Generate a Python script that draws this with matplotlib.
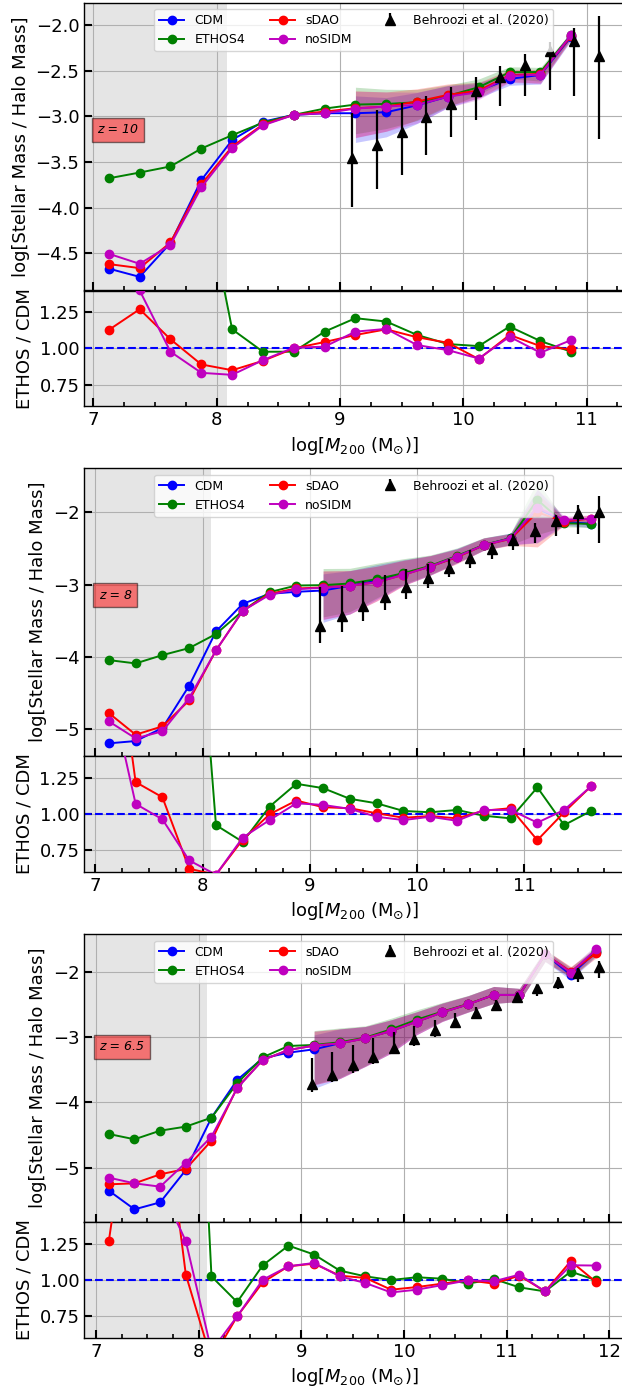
import numpy as np
import matplotlib
matplotlib.use('Agg')
import matplotlib.pyplot as plt
from matplotlib.ticker import MultipleLocator

# ---------------- data: z = 10 ----------------
mass_z10 = [7.125, 7.375, 7.625, 7.875, 8.125, 8.375, 8.625, 8.875, 9.125, 9.375,
            9.625, 9.875, 10.125, 10.375, 10.625, 10.875]
cdm_z10 = [-4.67, -4.76, -4.39, -3.70, -3.26, -3.06, -2.985, -2.967, -2.967, -2.956,
           -2.88, -2.785, -2.719, -2.591, -2.547, -2.128]
ethos_z10 = [-3.68, -3.617, -3.55, -3.354, -3.208, -3.07, -2.985, -2.916, -2.872, -2.865,
             -2.847, -2.777, -2.682, -2.518, -2.515, -2.106]
sdao_z10 = [-4.62, -4.664, -4.383, -3.745, -3.332, -3.09, -2.985, -2.949, -2.912, -2.894,
            -2.839, -2.766, -2.719, -2.551, -2.536, -2.12]
nosidm_z10 = [-4.507, -4.617, -4.41, -3.78, -3.35, -3.10, -2.985, -2.967, -2.916, -2.894,
              -2.876, -2.785, -2.737, -2.558, -2.544, -2.106]
ethos_ratio_z10 = [9.8, 14.0, 6.9, 2.2, 1.132, 0.977, 0.977, 1.116, 1.209, 1.186,
                   1.093, 1.03, 1.016, 1.151, 1.051, 0.977]
sdao_ratio_z10 = [1.128, 1.271, 1.063, 0.889, 0.849, 0.914, 1.0, 1.044, 1.093, 1.132,
                  1.077, 1.039, 0.926, 1.093, 1.016, 0.993]
nosidm_ratio_z10 = [1.46, 1.401, 0.977, 0.831, 0.817, 0.919, 1.005, 1.012, 1.116, 1.135,
                    1.023, 0.988, 0.930, 1.081, 0.970, 1.058]
band_up_z10 = [0.19, 0.16, 0.14, 0.12, 0.09, 0.06, 0.05, 0.03]
band_dn_z10 = [0.32, 0.27, 0.20, 0.12, 0.08, 0.07, 0.10, 0.04]
beh_x_z10 = [9.1, 9.3, 9.5, 9.7, 9.9, 10.1, 10.3, 10.5, 10.7, 10.9, 11.1]
beh_y_z10 = [-3.46, -3.314, -3.168, -3.011, -2.869, -2.719, -2.573, -2.438, -2.281, -2.172, -2.339]
beh_hi_z10 = [-2.967, -2.93, -2.858, -2.777, -2.682, -2.573, -2.445, -2.318, -2.19, -2.036, -1.90]
beh_lo_z10 = [-3.99, -3.80, -3.64, -3.42, -3.23, -3.04, -2.887, -2.777, -2.71, -2.777, -3.25]

# ---------------- data: z = 8 ----------------
mass_z8 = [7.125, 7.375, 7.625, 7.875, 8.125, 8.375, 8.625, 8.875, 9.125, 9.375,
           9.625, 9.875, 10.125, 10.375, 10.625, 10.875, 11.125, 11.375, 11.625]
cdm_z8 = [-5.198, -5.166, -4.986, -4.40, -3.65, -3.267, -3.129, -3.101, -3.083, -3.018,
          -2.945, -2.857, -2.751, -2.613, -2.456, -2.359, -1.945, -2.129, -2.161]
ethos_z8 = [-4.046, -4.092, -3.977, -3.88, -3.685, -3.364, -3.106, -3.014, -3.009, -2.986,
            -2.926, -2.843, -2.742, -2.604, -2.452, -2.359, -1.829, -2.152, -2.161]
sdao_z8 = [-4.779, -5.078, -4.963, -4.604, -3.912, -3.364, -3.129, -3.055, -3.041, -3.018,
           -2.968, -2.866, -2.751, -2.622, -2.456, -2.369, -2.0, -2.129, -2.088]
nosidm_z8 = [-4.894, -5.129, -5.032, -4.571, -3.912, -3.364, -3.143, -3.065, -3.046, -3.018,
             -2.968, -2.866, -2.751, -2.613, -2.456, -2.364, -1.935, -2.106, -2.088]
ethos_ratio_z8 = [14.0, 11.7, 10.2, 3.3, 0.923, 0.807, 1.051, 1.209, 1.179, 1.105,
                  1.074, 1.021, 1.012, 1.028, 0.988, 0.97, 1.184, 0.923, 1.021]
sdao_ratio_z8 = [2.6, 1.221, 1.116, 0.621, 0.58, 0.823, 0.998, 1.093, 1.047, 1.04,
                 1.005, 0.974, 0.986, 0.97, 1.023, 1.04, 0.819, 1.012, 1.191]
nosidm_ratio_z8 = [1.9, 1.07, 0.963, 0.679, 0.58, 0.837, 0.958, 1.074, 1.063, 1.035,
                   0.981, 0.958, 0.981, 0.953, 1.028, 1.028, 0.94, 1.028, 1.191]
band_up_z8 = [0.23, 0.21, 0.22, 0.20, 0.15, 0.11, 0.10, 0.07, 0.26, 0.05, 0.05]
band_dn_z8 = [0.44, 0.39, 0.26, 0.15, 0.12, 0.09, 0.07, 0.09, 0.48, 0.05, 0.05]
beh_x_z8 = [9.1, 9.3, 9.5, 9.7, 9.9, 10.1, 10.3, 10.5, 10.7, 10.9, 11.1, 11.3, 11.5, 11.7]
beh_y_z8 = [-3.571, -3.442, -3.304, -3.175, -3.037, -2.912, -2.765, -2.636, -2.512, -2.382,
            -2.258, -2.12, -2.014, -2.0]
beh_hi_z8 = [-3.028, -3.018, -2.945, -2.866, -2.788, -2.714, -2.645, -2.521, -2.419, -2.30,
             -2.152, -2.037, -1.899, -1.774]
beh_lo_z8 = [-3.811, -3.664, -3.502, -3.35, -3.203, -3.051, -2.899, -2.774, -2.65, -2.521,
             -2.419, -2.327, -2.30, -2.429]

# ---------------- data: z = 6.5 ----------------
mass_z65 = [7.125, 7.375, 7.625, 7.875, 8.125, 8.375, 8.625, 8.875, 9.125, 9.375,
            9.625, 9.875, 10.125, 10.375, 10.625, 10.875, 11.125, 11.375, 11.625, 11.875]
cdm_z65 = [-5.352, -5.638, -5.531, -5.036, -4.235, -3.658, -3.327, -3.24, -3.189, -3.097,
           -3.02, -2.908, -2.765, -2.622, -2.50, -2.357, -2.357, -1.735, -2.05, -1.694]
ethos_z65 = [-4.485, -4.566, -4.434, -4.372, -4.235, -3.709, -3.311, -3.138, -3.122, -3.082,
             -3.01, -2.883, -2.735, -2.612, -2.495, -2.357, -2.357, -1.735, -2.015, -1.684]
sdao_z65 = [-5.255, -5.24, -5.102, -5.02, -4.587, -3.776, -3.352, -3.199, -3.133, -3.097,
            -3.02, -2.908, -2.765, -2.622, -2.50, -2.357, -2.357, -1.735, -2.0, -1.719]
nosidm_z65 = [-5.153, -5.24, -5.291, -4.923, -4.526, -3.786, -3.352, -3.199, -3.133, -3.097,
              -3.02, -2.908, -2.765, -2.622, -2.50, -2.357, -2.357, -1.735, -2.015, -1.658]
ethos_ratio_z65 = [7.4, 11.7, 12.5, 4.6, 1.025, 0.847, 1.102, 1.238, 1.176, 1.065,
                   1.025, 1.0, 1.019, 1.009, 0.975, 1.007, 0.949, 0.921, 1.058, 0.998]
sdao_ratio_z65 = [1.269, 2.5, 2.45, 1.037, 0.445, 0.748, 0.984, 1.095, 1.113, 1.03,
                  1.014, 0.933, 0.951, 0.975, 0.998, 0.975, 1.03, 0.921, 1.13, 0.984]
nosidm_ratio_z65 = [1.58, 2.5, 1.65, 1.269, 0.51, 0.748, 1.002, 1.095, 1.118, 1.025,
                    0.979, 0.914, 0.933, 0.965, 0.998, 0.991, 1.037, 0.921, 1.102, 1.1]
band_up_z65 = [0.22, 0.22, 0.18, 0.17, 0.15, 0.14, 0.13, 0.13, 0.10, 0.07, 0.08, 0.07]
band_dn_z65 = [0.60, 0.54, 0.43, 0.34, 0.20, 0.14, 0.12, 0.13, 0.10, 0.11, 0.08, 0.07]
beh_x_z65 = [9.1, 9.3, 9.5, 9.7, 9.9, 10.1, 10.3, 10.5, 10.7, 10.9, 11.1, 11.3, 11.5, 11.7, 11.9]
beh_y_z65 = [-3.724, -3.582, -3.429, -3.301, -3.163, -3.031, -2.898, -2.765, -2.638, -2.51,
             -2.383, -2.255, -2.153, -2.026, -1.923]
beh_hi_z65 = [-3.327, -3.224, -3.122, -3.02, -2.929, -2.827, -2.74, -2.638, -2.536, -2.434,
              -2.332, -2.194, -2.077, -1.949, -1.837]
beh_lo_z65 = [-3.837, -3.694, -3.556, -3.418, -3.265, -3.133, -2.995, -2.857, -2.724, -2.602,
              -2.485, -2.367, -2.265, -2.163, -2.092]

model_names = ['CDM', 'ETHOS4', 'sDAO', 'noSIDM']
model_colors = ['b', 'g', 'r', 'm']
redshift_labels = ['z = 10', 'z = 8', 'z = 6.5']
band_start = 9.1
resolution_limit = 8.08

panels = [
    dict(mass=mass_z10, models=[cdm_z10, ethos_z10, sdao_z10, nosidm_z10],
         ratios=[ethos_ratio_z10, sdao_ratio_z10, nosidm_ratio_z10],
         bup=band_up_z10, bdn=band_dn_z10,
         bx=beh_x_z10, by=beh_y_z10, bhi=beh_hi_z10, blo=beh_lo_z10,
         xlim=(6.926, 11.299), ylim=(-4.905, -1.756), ystep=0.5),
    dict(mass=mass_z8, models=[cdm_z8, ethos_z8, sdao_z8, nosidm_z8],
         ratios=[ethos_ratio_z8, sdao_ratio_z8, nosidm_ratio_z8],
         bup=band_up_z8, bdn=band_dn_z8,
         bx=beh_x_z8, by=beh_y_z8, bhi=beh_hi_z8, blo=beh_lo_z8,
         xlim=(6.896, 11.929), ylim=(-5.369, -1.392), ystep=1.0),
    dict(mass=mass_z65, models=[cdm_z65, ethos_z65, sdao_z65, nosidm_z65],
         ratios=[ethos_ratio_z65, sdao_ratio_z65, nosidm_ratio_z65],
         bup=band_up_z65, bdn=band_dn_z65,
         bx=beh_x_z65, by=beh_y_z65, bhi=beh_hi_z65, blo=beh_lo_z65,
         xlim=(6.886, 12.139), ylim=(-5.827, -1.429), ystep=1.0),
]

W, H = 622, 1395
fig = plt.figure(figsize=(W / 100, H / 100), dpi=100)

left_px, right_px = 84.3, 623.5
main_tops = [2.7, 468.3, 934.3]
main_h = 287.4
ratio_h = 115.6


def ax_rect(top_px, h_px):
    return [left_px / W, (H - top_px - h_px) / H, (right_px - left_px) / W, h_px / H]


def style(ax, labelbottom):
    ax.grid(True, which='major', color='#b0b0b0', lw=0.8)
    ax.xaxis.set_major_locator(MultipleLocator(1))
    ax.xaxis.set_minor_locator(MultipleLocator(0.25))
    ax.tick_params(which='both', direction='in', top=False, right=False,
                   labelbottom=labelbottom, labelsize=13)
    ax.tick_params(which='major', length=6, width=1.5)
    ax.tick_params(which='minor', length=3, width=1.2)
    ax.tick_params(axis='y', which='minor', left=False)
    for s in ax.spines.values():
        s.set_linewidth(1.0)


for p, top, zlab in zip(panels, main_tops, redshift_labels):
    ax = fig.add_axes(ax_rect(top, main_h))
    axr = fig.add_axes(ax_rect(top + main_h + 0.5, ratio_h))
    x = np.array(p['mass'])
    sel = x >= band_start

    for a in (ax, axr):
        a.axvspan(p['xlim'][0] - 1, resolution_limit, color='grey', alpha=0.2, lw=0, zorder=0)

    # scatter bands
    for vals, c in zip(p['models'], model_colors):
        v = np.array(vals)[sel]
        ax.fill_between(x[sel], v - np.array(p['bdn']), v + np.array(p['bup']),
                        color=c, alpha=0.22, lw=0, zorder=2)

    handles = []
    for vals, c, name in zip(p['models'], model_colors, model_names):
        h, = ax.plot(x, vals, '-o', color=c, lw=1.4, ms=6, label=name, zorder=3)
        handles.append(h)

    by = np.array(p['by'])
    yerr = [by - np.array(p['blo']), np.array(p['bhi']) - by]
    eb = ax.errorbar(p['bx'], by, yerr=yerr, fmt='^', color='k', ms=6.5,
                     elinewidth=1.6, capsize=0, zorder=4, label='Behroozi et al. (2020)')

    ax.set_xlim(p['xlim'])
    ax.set_ylim(p['ylim'])
    ax.yaxis.set_major_locator(MultipleLocator(p['ystep']))
    style(ax, False)
    ax.set_ylabel('log[Stellar Mass / Halo Mass]', fontsize=13)

    ax.legend(handles=[handles[0], handles[1], handles[2], handles[3], eb],
              labels=model_names + ['Behroozi et al. (2020)'],
              ncol=3, loc='upper center', fontsize=9)

    ax.text(7.03, -3.15, zlab, fontsize=9, style='italic', ha='left', va='center',
            bbox=dict(facecolor='red', alpha=0.5), zorder=6)

    # ratio panel
    axr.axhline(1.0, color='b', ls='--', lw=1.5, zorder=2)
    for vals, c in zip(p['ratios'], model_colors[1:]):
        axr.plot(x, vals, '-o', color=c, lw=1.4, ms=6, zorder=3)
    axr.set_xlim(p['xlim'])
    axr.set_ylim(0.6, 1.4)
    axr.yaxis.set_major_locator(MultipleLocator(0.25))
    style(axr, True)
    axr.set_ylabel('ETHOS / CDM', fontsize=13)
    axr.set_xlabel(r'log[$M_{200}$ (M$_{\odot}$)]', fontsize=13)

fig.savefig('out.png', dpi=100)
